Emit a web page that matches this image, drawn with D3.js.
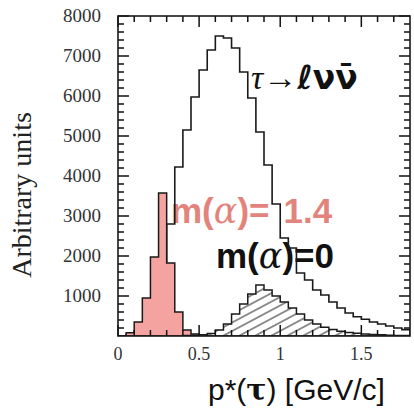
<!DOCTYPE html>
<html>
<head>
<meta charset="utf-8">
<script src="https://cdn.jsdelivr.net/npm/d3@7"></script>
<style>
  html, body { margin: 0; padding: 0; background: #fff; }
  svg { display: block; }
</style>
</head>
<body>
<div id="chart"></div>
<script>
// histogram bins: 0.05 GeV/c wide, starting at 0
const binStart = 0
const binWidth = 0.05

// tau -> l nu nubar background (open histogram)
const mainCounts = [0, 30, 120, 350, 800, 1600, 2800, 4225, 5150, 5975,
  6650, 7150, 7500, 7450, 7200, 6600, 5950, 5100, 4275, 3300,
  2450, 2200, 1575, 1400, 1150, 1025, 850, 700, 575, 480,
  420, 350, 300, 250, 200, 160]

// m(alpha)=1.4 signal (pink)
const pinkCounts = [0, 80, 350, 950, 1975, 3575, 1825, 600, 150, 50,
  30, 0, 0, 0, 0, 0, 0, 0, 0, 0,
  0, 0, 0, 0, 0, 0, 0, 0, 0, 0,
  0, 0, 0, 0, 0, 0]

// m(alpha)=0 signal (hatched)
const hatchCounts = [0, 0, 0, 0, 0, 0, 0, 0, 10, 20,
  30, 60, 150, 300, 550, 800, 1050, 1275, 1150, 1000,
  850, 700, 550, 400, 300, 220, 160, 120, 90, 70,
  50, 40, 30, 20, 15, 10]

const xMajor = [0, 0.5, 1, 1.5]
const xMajorLabels = ["0", "0.5", "1", "1.5"]
const xMinor = [0.1, 0.2, 0.3, 0.4, 0.6, 0.7, 0.8, 0.9, 1.1, 1.2, 1.3, 1.4, 1.6, 1.7]
const yMajor = [1000, 2000, 3000, 4000, 5000, 6000, 7000, 8000]
const yMinor = [200, 400, 600, 800, 1200, 1400, 1600, 1800, 2200, 2400, 2600, 2800,
  3200, 3400, 3600, 3800, 4200, 4400, 4600, 4800, 5200, 5400, 5600, 5800,
  6200, 6400, 6600, 6800, 7200, 7400, 7600, 7800]

let width = 414, height = 417
let pLeft = 118, pRight = 410, pTop = 16, pBottom = 336

let svg = d3.select("#chart").append("svg")
  .attr("width", width)
  .attr("height", height)

let x = d3.scaleLinear().domain([0, 1.8]).range([pLeft, pRight])
let y = d3.scaleLinear().domain([0, 8000]).range([pBottom, pTop])

let defs = svg.append("defs")
defs.append("clipPath").attr("id", "plot-clip")
  .append("rect")
  .attr("x", pLeft).attr("y", pTop)
  .attr("width", pRight - pLeft).attr("height", pBottom - pTop)

let pat = defs.append("pattern")
  .attr("id", "hatch")
  .attr("patternUnits", "userSpaceOnUse")
  .attr("width", 12).attr("height", 7.5)
  .attr("patternTransform", "rotate(-28)")
pat.append("line")
  .attr("x1", 0).attr("y1", 3.75).attr("x2", 12).attr("y2", 3.75)
  .attr("stroke", "#222").attr("stroke-width", 1)

function stepPoints(counts) {
  let pts = [[x(binStart), y(0)]]
  counts.forEach((c, i) => {
    let lo = binStart + i * binWidth
    pts.push([x(lo), y(c)])
    pts.push([x(lo + binWidth), y(c)])
  })
  pts.push([x(binStart + counts.length * binWidth), y(0)])
  return pts
}

let line = d3.line()

// labels inside the plot (drawn under the histogram lines)
svg.append("text")
  .attr("x", 171).attr("y", 223)
  .attr("font-family", "Liberation Sans, Arial, sans-serif")
  .attr("font-weight", "bold")
  .attr("font-size", 35)
  .attr("fill", "#e3847c")
  .html('m(<tspan font-family="DejaVu Serif" font-style="italic" font-weight="normal">α</tspan>)=<tspan dx="14">1.4</tspan>')

svg.append("text")
  .attr("x", 216).attr("y", 268)
  .attr("font-family", "Liberation Sans, Arial, sans-serif")
  .attr("font-weight", "bold")
  .attr("font-size", 35)
  .attr("fill", "#111")
  .html('m(<tspan font-family="DejaVu Serif" font-style="italic" font-weight="normal">α</tspan>)=0')

svg.append("text")
  .attr("x", 251).attr("y", 89)
  .attr("font-family", "Liberation Serif, serif")
  .attr("font-size", 34)
  .attr("fill", "#111")
  .html('<tspan font-style="italic">τ</tspan>→<tspan font-family="DejaVu Sans" font-weight="bold" font-size="33">ℓνν̄</tspan>')

let plot = svg.append("g").attr("clip-path", "url(#plot-clip)")

plot.append("path")
  .datum(stepPoints(mainCounts))
  .attr("d", line)
  .attr("fill", "none")
  .attr("stroke", "#1a1a1a")
  .attr("stroke-width", 1.6)

plot.append("path")
  .datum(stepPoints(pinkCounts))
  .attr("d", line)
  .attr("fill", "#f4a3a1")
  .attr("stroke", "#1a1a1a")
  .attr("stroke-width", 1.5)

plot.append("path")
  .datum(stepPoints(hatchCounts))
  .attr("d", line)
  .attr("fill", "url(#hatch)")
  .attr("stroke", "#1a1a1a")
  .attr("stroke-width", 1.5)

// ticks pointing inward on all four sides, like ROOT
let tickG = svg.append("g").attr("id", "ticks")

function xTickPath(vals, len) {
  let p = d3.path()
  vals.forEach(v => {
    p.moveTo(x(v), pBottom); p.lineTo(x(v), pBottom - len)
    p.moveTo(x(v), pTop); p.lineTo(x(v), pTop + len)
  })
  return p.toString()
}
function yTickPath(vals, len) {
  let p = d3.path()
  vals.forEach(v => {
    p.moveTo(pLeft, y(v)); p.lineTo(pLeft + len, y(v))
    p.moveTo(pRight, y(v)); p.lineTo(pRight - len, y(v))
  })
  return p.toString()
}
tickG.append("path").attr("d", xTickPath(xMajor, 11))
  .attr("fill", "none").attr("stroke", "#111").attr("stroke-width", 1.5)
tickG.append("path").attr("d", xTickPath(xMinor, 6))
  .attr("fill", "none").attr("stroke", "#111").attr("stroke-width", 1.5)
tickG.append("path").attr("d", yTickPath(yMajor, 11))
  .attr("fill", "none").attr("stroke", "#111").attr("stroke-width", 1.5)
tickG.append("path").attr("d", yTickPath(yMinor, 6))
  .attr("fill", "none").attr("stroke", "#111").attr("stroke-width", 1.5)

// tick labels
svg.append("g").selectAll("text").data(xMajor).enter().append("text")
  .attr("x", d => x(d)).attr("y", pBottom + 24)
  .attr("text-anchor", "middle")
  .attr("font-family", "Liberation Serif")
  .attr("font-size", 18)
  .attr("fill", "#333")
  .text((d, i) => xMajorLabels[i])

svg.append("g").selectAll("text").data(yMajor).enter().append("text")
  .attr("x", pLeft - 17).attr("y", d => y(d))
  .attr("dy", "0.34em")
  .attr("text-anchor", "end")
  .attr("font-family", "Liberation Serif")
  .attr("font-size", 19)
  .attr("fill", "#333")
  .text(d => d3.format("d")(d))

// frame
svg.append("rect")
  .attr("x", pLeft).attr("y", pTop)
  .attr("width", pRight - pLeft).attr("height", pBottom - pTop)
  .attr("fill", "none")
  .attr("stroke", "#1a1a1a")
  .attr("stroke-width", 1.6)

// axis titles
svg.append("text")
  .attr("transform", "translate(31,195) rotate(-90)")
  .attr("text-anchor", "middle")
  .attr("font-family", "Liberation Serif, serif")
  .attr("font-size", 28)
  .attr("fill", "#222")
  .text("Arbitrary units")

svg.append("text")
  .attr("x", 208).attr("y", 400)
  .attr("font-family", "Liberation Sans, Arial, sans-serif")
  .attr("font-size", 30)
  .attr("fill", "#111")
  .html('p*(<tspan font-family="DejaVu Serif" font-weight="bold">τ</tspan>) [GeV/c]')
</script>
</body>
</html>
